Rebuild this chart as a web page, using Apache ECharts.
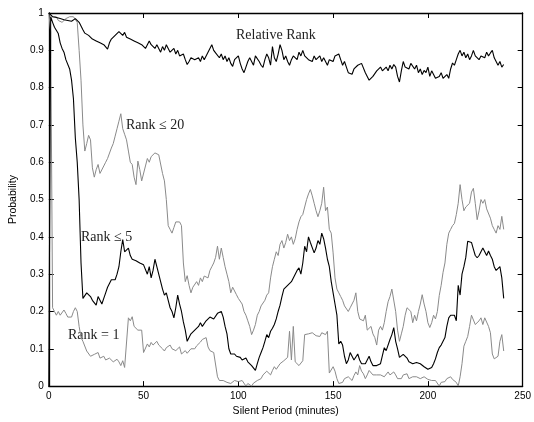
<!DOCTYPE html>
<html><head><meta charset="utf-8">
<script src="https://cdn.jsdelivr.net/npm/echarts@6/dist/echarts.min.js"></script>
<style>html,body{margin:0;padding:0;background:#fff}#c{width:534px;height:422px}</style>
</head><body><div id="c"></div>
<script>
// minutes 0..240, one value per minute
const relRank = [
1.00,0.995,0.99,0.993,0.988,0.99,0.985,0.99,0.982,0.985,
0.98,0.985,0.978,0.982,0.985,0.983,0.975,0.965,0.955,0.946,
0.945,0.94,0.935,0.93,0.935,0.925,0.93,0.92,0.925,0.915,
0.91,0.903,0.92,0.93,0.935,0.94,0.945,0.95,0.945,0.94,
0.948,0.935,0.94,0.93,0.935,0.925,0.93,0.92,0.925,0.915,
0.92,0.905,0.91,0.925,0.915,0.92,0.905,0.915,0.91,0.895,
0.91,0.9,0.915,0.905,0.895,0.9,0.905,0.89,0.9,0.885,
0.88,0.89,0.875,0.862,0.87,0.88,0.884,0.875,0.87,0.88,
0.87,0.885,0.875,0.88,0.895,0.905,0.915,0.9,0.893,0.89,
0.88,0.89,0.875,0.885,0.87,0.88,0.865,0.857,0.875,0.87,
0.885,0.865,0.85,0.84,0.855,0.87,0.88,0.875,0.86,0.885,
0.88,0.87,0.86,0.854,0.875,0.89,0.88,0.86,0.91,0.88,
0.87,0.89,0.915,0.9,0.875,0.885,0.87,0.86,0.875,0.885,
0.89,0.875,0.895,0.885,0.9,0.885,0.89,0.875,0.88,0.87,
0.885,0.875,0.871,0.885,0.87,0.88,0.875,0.86,0.875,0.878,
0.87,0.885,0.88,0.89,0.875,0.86,0.87,0.855,0.84,0.845,
0.836,0.85,0.845,0.86,0.855,0.865,0.867,0.84,0.83,0.82,
0.825,0.83,0.835,0.845,0.84,0.855,0.845,0.84,0.855,0.845,
0.86,0.85,0.862,0.855,0.83,0.815,0.845,0.87,0.855,0.86,
0.85,0.865,0.866,0.85,0.86,0.84,0.85,0.835,0.846,0.84,
0.855,0.83,0.845,0.835,0.825,0.82,0.83,0.84,0.825,0.82,
0.835,0.825,0.85,0.866,0.86,0.875,0.89,0.9,0.885,0.895,
0.88,0.89,0.875,0.885,0.9,0.885,0.89,0.875,0.885,0.89,
0.88,0.895,0.885,0.893,0.9,0.88,0.875,0.86,0.87,0.855,
0.862];
const rank20 = [
1.0,0.995,0.99,0.985,0.99,0.98,0.985,0.975,0.98,0.985,
0.98,0.99,0.985,0.99,0.993,0.975,0.9,0.82,0.7,0.63,
0.65,0.672,0.66,0.585,0.56,0.58,0.594,0.57,0.565,0.59,
0.6,0.61,0.615,0.638,0.65,0.67,0.69,0.71,0.73,0.69,
0.675,0.66,0.63,0.6,0.594,0.56,0.54,0.603,0.58,0.55,
0.545,0.59,0.61,0.6,0.615,0.61,0.625,0.63,0.62,0.625,
0.57,0.55,0.5,0.43,0.42,0.41,0.425,0.44,0.435,0.44,
0.43,0.33,0.28,0.296,0.27,0.25,0.265,0.26,0.28,0.27,
0.29,0.28,0.295,0.3,0.29,0.31,0.32,0.33,0.345,0.375,
0.34,0.37,0.345,0.32,0.3,0.28,0.25,0.265,0.26,0.245,
0.235,0.24,0.22,0.2,0.19,0.175,0.16,0.138,0.15,0.165,
0.19,0.2,0.215,0.21,0.23,0.244,0.25,0.29,0.32,0.34,
0.36,0.35,0.38,0.39,0.37,0.385,0.407,0.39,0.4,0.38,
0.395,0.42,0.44,0.454,0.46,0.48,0.5,0.515,0.527,0.51,
0.49,0.47,0.454,0.47,0.49,0.533,0.47,0.48,0.42,0.41,
0.357,0.29,0.26,0.25,0.24,0.23,0.215,0.22,0.2,0.21,
0.21,0.23,0.25,0.2,0.18,0.185,0.175,0.19,0.15,0.147,
0.16,0.14,0.13,0.11,0.15,0.16,0.15,0.17,0.2,0.226,
0.24,0.26,0.255,0.2,0.15,0.12,0.14,0.16,0.19,0.21,
0.21,0.2,0.17,0.19,0.175,0.2,0.22,0.245,0.22,0.2,
0.17,0.157,0.17,0.19,0.18,0.2,0.243,0.27,0.305,0.33,
0.38,0.41,0.42,0.43,0.436,0.46,0.49,0.54,0.5,0.47,
0.48,0.475,0.49,0.52,0.53,0.49,0.446,0.47,0.5,0.49,
0.5,0.475,0.48,0.45,0.43,0.42,0.41,0.43,0.42,0.455,
0.42];
const rank5 = [
0,0.99,0.975,0.962,0.958,0.945,0.92,0.905,0.895,0.875,
0.88,0.85,0.82,0.77,0.665,0.6,0.5,0.33,0.235,0.24,
0.25,0.255,0.24,0.23,0.225,0.217,0.24,0.245,0.22,0.235,
0.25,0.265,0.27,0.285,0.29,0.285,0.3,0.32,0.36,0.393,
0.36,0.357,0.37,0.35,0.34,0.345,0.336,0.34,0.33,0.335,
0.325,0.33,0.3,0.32,0.29,0.31,0.34,0.32,0.3,0.28,
0.26,0.244,0.25,0.23,0.21,0.2,0.183,0.21,0.244,0.22,
0.2,0.172,0.15,0.12,0.13,0.14,0.135,0.15,0.147,0.16,
0.17,0.16,0.165,0.175,0.17,0.185,0.19,0.18,0.183,0.195,
0.19,0.2,0.185,0.16,0.14,0.1,0.086,0.09,0.086,0.08,
0.077,0.077,0.07,0.068,0.075,0.065,0.06,0.055,0.05,0.042,
0.06,0.077,0.09,0.103,0.12,0.138,0.13,0.147,0.155,0.165,
0.18,0.2,0.217,0.24,0.26,0.255,0.27,0.27,0.28,0.275,
0.3,0.31,0.317,0.3,0.33,0.375,0.36,0.4,0.385,0.39,
0.357,0.37,0.39,0.38,0.41,0.395,0.37,0.34,0.32,0.28,
0.25,0.22,0.19,0.113,0.12,0.11,0.08,0.06,0.07,0.09,
0.08,0.07,0.075,0.086,0.07,0.06,0.065,0.06,0.07,0.08,
0.065,0.055,0.06,0.055,0.055,0.06,0.058,0.103,0.095,0.1,
0.125,0.138,0.157,0.12,0.1,0.077,0.08,0.085,0.08,0.075,
0.065,0.062,0.06,0.065,0.063,0.065,0.06,0.055,0.052,0.05,
0.045,0.042,0.05,0.06,0.073,0.09,0.103,0.11,0.105,0.13,
0.16,0.183,0.19,0.185,0.19,0.175,0.27,0.244,0.3,0.32,
0.345,0.388,0.39,0.385,0.367,0.35,0.344,0.35,0.355,0.37,
0.36,0.35,0.362,0.35,0.34,0.32,0.31,0.305,0.32,0.29,
0.235];
const rank1 = [
1.0,0.95,0.21,0.2,0.19,0.2,0.19,0.195,0.204,0.195,
0.185,0.19,0.185,0.2,0.21,0.2,0.16,0.13,0.12,0.125,
0.094,0.09,0.08,0.077,0.085,0.08,0.09,0.075,0.077,0.08,
0.07,0.068,0.075,0.072,0.065,0.06,0.072,0.065,0.055,0.068,
0.05,0.055,0.183,0.175,0.186,0.16,0.155,0.15,0.155,0.15,
0.09,0.086,0.113,0.105,0.117,0.11,0.113,0.12,0.11,0.113,
0.1,0.094,0.103,0.1,0.11,0.1,0.103,0.095,0.094,0.105,
0.086,0.09,0.095,0.088,0.09,0.1,0.105,0.1,0.108,0.113,
0.118,0.125,0.12,0.13,0.105,0.095,0.1,0.09,0.085,0.025,
0.015,0.012,0.015,0.012,0.01,0.015,0.007,0.012,0.015,0.02,
0.012,0.007,0.015,0.01,0,0.007,0.003,0,0.008,0.012,
0.015,0.012,0.02,0.03,0.028,0.04,0.035,0.03,0.042,0.052,
0.045,0.042,0.06,0.055,0.068,0.065,0.077,0.147,0.07,0.16,
0.065,0.06,0.055,0.06,0.068,0.138,0.135,0.14,0.138,0.143,
0.138,0.135,0.14,0.133,0.143,0.14,0.138,0.147,0.035,0.04,
0.052,0.04,0.02,0.007,0.005,0.01,0.02,0.015,0.025,0.02,
0.015,0.028,0.038,0.03,0.055,0.04,0.033,0.02,0.03,0.042,
0.038,0.03,0.028,0.03,0.028,0.03,0.028,0.025,0.03,0.038,
0.03,0.025,0.038,0.03,0.02,0.015,0.02,0.03,0.025,0.033,
0.02,0.025,0.025,0.02,0.025,0.02,0.02,0.025,0.025,0.02,
0.018,0.015,0.015,0.015,0.015,0.015,0,0.01,0.015,0.012,
0.02,0.015,0.025,0.018,0.015,0.01,0,0.025,0.06,0.107,
0.12,0.133,0.16,0.19,0.185,0.165,0.16,0.175,0.183,0.165,
0.183,0.18,0.16,0.143,0.086,0.073,0.078,0.08,0.12,0.138,
0.094];
const xTicks = [0, 50, 100, 150, 200, 250];
const yTicks = [0, 0.1, 0.2, 0.3, 0.4, 0.5, 0.6, 0.7, 0.8, 0.9, 1];
const labels = ['Relative Rank', 'Rank \u2264 20', 'Rank \u2264 5', 'Rank = 1'];

const pairs = arr => arr.map((v, i) => [i, v]);
const chart = echarts.init(document.getElementById('c'), null, {renderer: 'canvas'});
const sans = "'Liberation Sans', Arial, Helvetica, sans-serif";
const serif = "'Liberation Serif', 'Times New Roman', serif";
const axCommon = {
  type: 'value',
  axisLine: {show: true, onZero: false, lineStyle: {color: '#000', width: 1.3}},
  axisTick: {show: true, inside: true, length: 5, lineStyle: {color: '#000'}},
  splitLine: {show: false}
};
function lineSeries(name, data, color, w, z) {
  return {name, type: 'line', data: pairs(data), showSymbol: false, symbol: 'none',
    lineStyle: {color, width: w}, itemStyle: {color}, animation: false, z, xAxisIndex: 0, yAxisIndex: 0};
}
chart.setOption({
  animation: false,
  grid: {left: 43, right: 11, top: 13, bottom: 29, containLabel: false},
  xAxis: [
    Object.assign({}, axCommon, {min: xTicks[0], max: xTicks[xTicks.length-1], interval: 50, position: 'bottom',
      name: 'Silent Period (minutes)', nameLocation: 'middle', nameGap: 18,
      nameTextStyle: {fontFamily: sans, fontSize: 10.5, color: '#000'},
      axisLabel: {fontFamily: sans, fontSize: 10, color: '#000', margin: 5}}),
    Object.assign({}, axCommon, {min: 0, max: 250, interval: 50, position: 'top', axisLabel: {show: false}})
  ],
  yAxis: [
    Object.assign({}, axCommon, {min: yTicks[0], max: yTicks[yTicks.length-1], interval: 0.1, position: 'left',
      name: 'Probability', nameLocation: 'middle', nameGap: 20, nameRotate: 90,
      nameTextStyle: {fontFamily: sans, fontSize: 10.5, color: '#000'},
      axisLabel: {fontFamily: sans, fontSize: 10, color: '#000', margin: 5,
        formatter: v => (Math.abs(v) < 1e-9 ? '0' : Math.abs(v - 1) < 1e-9 ? '1' : v.toFixed(1))}}),
    Object.assign({}, axCommon, {min: 0, max: 1, interval: 0.1, position: 'right', axisLabel: {show: false}})
  ],
  series: [
    lineSeries('rank20', rank20, '#8a8a8a', 1, 2),
    lineSeries('rank1', rank1, '#8a8a8a', 1, 2),
    lineSeries('rank5', rank5, '#000', 1.1, 3),
    lineSeries('relRank', relRank, '#000', 1.1, 3)
  ],
  graphic: [
    {type: 'text', left: 236, top: 28, style: {text: labels[0], font: "14px " + serif, fill: '#222'}},
    {type: 'text', left: 126, top: 118, style: {text: labels[1], font: "14px " + serif, fill: '#222'}},
    {type: 'text', left: 81, top: 230, style: {text: labels[2], font: "14px " + serif, fill: '#222'}},
    {type: 'text', left: 68, top: 328, style: {text: labels[3], font: "14px " + serif, fill: '#222'}}
  ]
});
</script></body></html>
